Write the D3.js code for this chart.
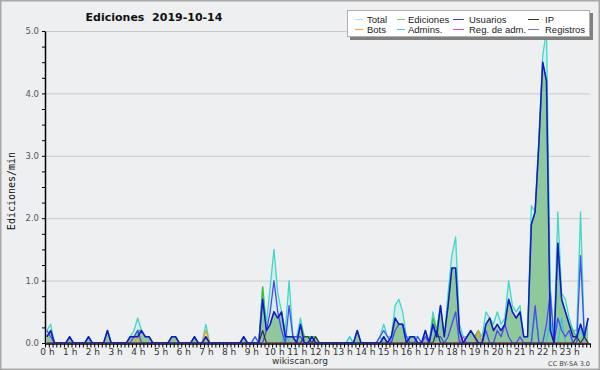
<!DOCTYPE html>
<html>
<head>
<meta charset="utf-8">
<script src="https://cdn.jsdelivr.net/npm/d3@7"></script>
<style>
  body { margin: 0; background: #eeeff0; }
  svg { display: block; font-family: "DejaVu Sans", sans-serif; }
</style>
</head>
<body>
<div id="chart"></div>
<script>
// edits per minute, one value per 10 minute slot (144 slots, 12 per row = 2 hours)
const total = [
  0.2,0.3,0,0,0,0,0.1,0,0,0,0,0.1,
  0,0,0,0,0.2,0,0,0,0,0,0.1,0.2,
  0.4,0.2,0.1,0.1,0,0,0,0,0,0.1,0.1,0,
  0,0,0,0.1,0,0,0.3,0,0,0,0,0,
  0,0,0,0,0.1,0,0,0.1,0,0.9,0.3,0.9,
  1.5,0.8,0.5,0.2,1.0,0.1,0.1,0.4,0.1,0.1,0.1,0.1,
  0,0,0,0,0,0,0,0,0.1,0,0.2,0,
  0,0,0,0,0.1,0.3,0.1,0.1,0.6,0.7,0.5,0.1,
  0.1,0.1,0.1,0,0.2,0,0.5,0.2,0.6,0.1,0.8,1.4,
  1.7,0.3,0.1,0.1,0.2,0.1,0.2,0.1,0.5,0.4,0.3,0.5,
  0.3,0.4,1.0,0.6,0.5,0.6,0.1,0.1,2.2,2.1,3.3,4.6,
  5.0,0.9,0.1,2.1,0.8,0.7,0.4,0.2,0.2,2.1,0.1,0.4
];
const ediciones = [
  0.1,0.2,0,0,0,0,0.1,0,0,0,0,0.1,
  0,0,0,0,0.2,0,0,0,0,0,0.1,0.1,
  0.2,0.2,0.1,0.1,0,0,0,0,0,0.1,0.1,0,
  0,0,0,0.1,0,0,0.1,0,0,0,0,0,
  0,0,0,0,0.1,0,0,0,0,0.9,0.2,0.3,
  0.5,0.4,0.5,0.1,0.1,0.1,0,0.3,0.1,0.1,0.1,0.1,
  0,0,0,0,0,0,0,0,0,0,0.2,0,
  0,0,0,0,0,0.1,0,0,0.4,0.3,0.3,0,
  0.1,0.1,0,0,0.2,0,0.4,0.2,0.6,0.1,0.6,1.2,
  1.2,0.2,0,0.1,0.2,0.1,0.2,0,0.3,0.4,0.2,0.3,
  0.2,0.3,0.7,0.5,0.4,0.5,0.1,0.1,1.9,2.1,3.2,4.5,
  4.2,0.3,0,1.6,0.7,0.5,0.3,0.2,0.1,0.3,0.1,0.4
];
const usuarios = [
  0.1,0.2,0,0,0,0,0.1,0,0,0,0,0.1,
  0,0,0,0,0.2,0,0,0,0,0,0.1,0.1,
  0.1,0.2,0.1,0.1,0,0,0,0,0,0.1,0.1,0,
  0,0,0,0.1,0,0,0.1,0,0,0,0,0,
  0,0,0,0,0.1,0,0,0,0,0.7,0.2,0.3,
  0.5,0.4,0.5,0.1,0.1,0.1,0,0.3,0,0,0.1,0,
  0,0,0,0,0,0,0,0,0,0,0.2,0,
  0,0,0,0,0,0.1,0,0.1,0.4,0.3,0.3,0,
  0.1,0.1,0,0,0.2,0,0.3,0.1,0.6,0.1,0.6,1.2,
  1.2,0.2,0,0.1,0.2,0.1,0,0,0.3,0.4,0.2,0.3,
  0.2,0.3,0.7,0.5,0.4,0.5,0.1,0.1,1.9,2.1,3.2,4.5,
  4.2,0.2,0,1.6,0.7,0.5,0.3,0.1,0.1,0.3,0.1,0.4
];
const ip = [
  0,0,0,0,0,0,0,0,0,0,0,0,
  0,0,0,0,0,0,0,0,0,0,0,0,
  0,0,0,0,0,0,0,0,0,0,0,0,
  0,0,0,0,0,0,0,0,0,0,0,0,
  0,0,0,0,0,0,0,0,0,0.2,0,0,
  0,0,0,0,0,0,0,0,0.1,0.1,0,0.1,
  0,0,0,0,0,0,0,0,0,0,0,0,
  0,0,0,0,0,0,0,0,0,0,0,0,
  0,0,0,0,0,0,0,0.2,0,0,0,0,
  0,0,0,0,0,0,0,0,0,0,0,0,
  0,0,0,0,0,0,0,0,0,0,0,0,
  0,0,0,0,0,0,0,0,0.1,0,0.1,0
];
const bots = [
  0,0,0,0,0,0,0,0,0,0,0,0,
  0,0,0,0,0,0,0,0,0,0,0,0,
  0.1,0,0,0,0,0,0,0,0,0,0,0,
  0,0,0,0,0,0,0.2,0,0,0,0,0,
  0,0,0,0,0,0,0,0,0,0,0,0,
  0,0,0,0,0,0,0,0,0,0,0,0,
  0,0,0,0,0,0,0,0,0,0,0,0,
  0,0,0,0,0,0,0,0,0,0,0,0,
  0,0,0,0,0,0,0,0,0,0,0,0,
  0,0,0,0,0,0,0.2,0,0,0,0,0,
  0,0,0,0,0,0,0,0,0,0,0,0,
  0,0,0,0,0,0,0,0,0,0,0,0
];
const admins = [
  0,0,0,0,0,0,0,0,0,0,0,0,
  0,0,0,0,0,0,0,0,0,0,0,0,
  0,0,0,0,0,0,0,0,0,0,0,0,
  0,0,0,0,0,0,0,0,0,0,0,0,
  0,0,0,0,0,0,0,0,0,0,0,0,
  0,0,0,0.2,0,0,0,0,0,0,0,0,
  0,0,0,0,0,0,0,0,0.1,0,0,0,
  0,0,0,0,0.1,0,0,0,0,0,0,0,
  0,0,0,0,0,0,0.3,0,0,0,0,0,
  0,0,0,0,0,0,0,0,0,0,0,0,
  0,0,0,0,0,0,0,0,0,0.5,0,0,
  0,0.4,0,0,0.4,0,0,0,0,0.3,0,0
];
const regAdm = [
  0,0,0,0,0,0,0,0,0,0,0,0,
  0,0,0,0,0,0,0,0,0,0,0,0,
  0,0,0,0,0,0,0,0,0,0,0,0,
  0,0,0,0,0,0,0,0,0,0,0,0,
  0,0,0,0,0,0,0,0,0,0,0,0,
  0,0,0,0,0,0,0,0,0,0,0,0,
  0,0,0,0,0,0,0,0,0,0,0,0,
  0,0,0,0,0,0,0,0,0,0,0,0,
  0,0,0,0,0,0,0,0,0,0,0,0,
  0,0,0.1,0,0,0,0,0,0,0,0,0,
  0,0,0,0,0,0,0,0,0,0,0,0,
  0,0,0,0,0,0,0,0,0,0,0,0
];
const registros = [
  0.2,0.1,0,0,0,0,0,0,0,0,0,0,
  0,0,0,0,0,0,0,0,0,0,0,0.1,
  0.2,0,0,0,0,0,0,0,0,0,0,0,
  0,0,0,0,0,0,0,0,0,0,0,0,
  0,0,0,0,0,0,0,0.1,0,0,0.2,0.5,
  1.0,0.5,0.2,0,0.6,0.1,0.1,0.1,0,0,0,0,
  0,0,0,0,0,0,0,0,0,0,0,0,
  0,0,0,0,0.1,0.2,0.1,0,0.2,0.3,0.3,0.1,
  0,0,0.1,0,0.1,0,0.3,0.1,0.1,0,0.1,0.3,
  0.5,0,0,0,0,0,0,0,0.2,0,0,0.2,
  0.1,0.3,0.1,0,0,0.1,0,0,0,0.6,0,0,
  0.3,0.8,0,0.4,0.2,0.1,0.2,0,0,1.4,0.1,0
];

const hourLabels = ["0 h","1 h","2 h","3 h","4 h","5 h","6 h","7 h","8 h","9 h","10 h","11 h",
  "12 h","13 h","14 h","15 h","16 h","17 h","18 h","19 h","20 h","21 h","22 h","23 h"];
const legendNames = ["Total","Bots","Ediciones","Admins.","Usuarios","Reg. de adm.","IP","Registros"];
const legendColors = ["#a6e8e6","#f5a623","#7ccf7c","#3fd2e6","#3838ea","#e044e0","#333333","#7474f2"];

var margin = { top: 31, right: 10, bottom: 27, left: 45 },
    width = 600 - margin.left - margin.right,
    height = 370 - margin.top - margin.bottom;

var svg = d3.select("#chart")
    .append("svg")
    .attr("width", 600)
    .attr("height", 370);

svg.append("rect")
    .attr("x", 0.75).attr("y", 0.75)
    .attr("width", 598.5).attr("height", 368.5)
    .attr("fill", "#eeeff0")
    .attr("stroke", "#a8a8a8")
    .attr("stroke-width", 1.5);

var g = svg.append("g")
    .attr("transform", "translate(" + margin.left + "," + margin.top + ")");

var x = d3.scaleLinear().domain([0, 144]).range([0, width]);
var y = d3.scaleLinear().domain([0, 5]).range([height, 0]);

// grid lines
g.append("g")
    .selectAll("line")
    .data([1, 2, 3, 4, 5])
    .enter().append("line")
    .attr("x1", 0).attr("x2", width)
    .attr("y1", function (d) { return y(d) + 0.5; })
    .attr("y2", function (d) { return y(d) + 0.5; })
    .attr("stroke", "#c9c9c9");

g.append("clipPath").attr("id", "clip")
    .append("rect").attr("width", width).attr("height", height);

var plot = g.append("g").attr("clip-path", "url(#clip)");

var area = d3.area()
    .x(function (d, i) { return x(i + 0.5); })
    .y0(height)
    .y1(function (d) { return y(d); });
var line = d3.line()
    .x(function (d, i) { return x(i + 0.5); })
    .y(function (d) { return y(d); });

plot.append("path").datum(total).attr("d", area).attr("fill", "#d5eeec");
plot.append("path").datum(ediciones).attr("d", area).attr("fill", "#8fc89b");

var lines = [
    { data: total, color: "#3fd8ca", w: 1.3 },
    { data: ediciones, color: "#3cbf46", w: 1.3 },
    { data: admins, color: "#2fc6e0", w: 1.2 },
    { data: bots, color: "#f0a020", w: 1.3 },
    { data: regAdm, color: "#e040e0", w: 1.2 },
    { data: registros, color: "#4a4af2", w: 1.3 },
    { data: ip, color: "#333333", w: 1.2 },
    { data: usuarios, color: "#1515d2", w: 1.5 }
];

plot.selectAll(".series")
    .data(lines)
    .enter().append("path")
    .attr("class", "series")
    .attr("d", function (d) { return line(d.data); })
    .attr("fill", "none")
    .attr("stroke", function (d) { return d.color; })
    .attr("stroke-width", function (d) { return d.w; })
    .attr("stroke-linejoin", "round");

// x axis: a tick every 10 minutes, labels on the hour
var xAxis = g.append("g")
    .attr("transform", "translate(0," + (height + 0.5) + ")")
    .call(d3.axisBottom(x)
        .tickValues(d3.range(0, 145))
        .tickSize(4)
        .tickSizeOuter(0)
        .tickFormat(function (d) { return (d % 6 === 0 && d < 144) ? hourLabels[d / 6] : ""; }));
xAxis.select(".domain").attr("stroke", "#000").attr("stroke-width", 1.5);
xAxis.selectAll(".tick line").attr("stroke", "#000");
xAxis.selectAll("text")
    .attr("dx", 2).attr("y", 5)
    .attr("fill", "#333")
    .style("font-size", "9px")
    .style("font-family", "DejaVu Sans");

var yAxis = g.append("g")
    .call(d3.axisLeft(y)
        .tickValues(d3.range(0, 5.01, 0.25))
        .tickSize(3)
        .tickSizeOuter(0)
        .tickFormat(function (d) { return Number.isInteger(d) ? d3.format(".1f")(d) : ""; }));
yAxis.select(".domain").attr("stroke", "#000").attr("stroke-width", 1.5);
yAxis.selectAll(".tick line").attr("stroke", "#000");
yAxis.selectAll("text")
    .attr("fill", "#555")
    .style("font-size", "8.5px")
    .style("font-family", "DejaVu Sans");

// titles
svg.append("text")
    .attr("x", 154).attr("y", 21)
    .attr("text-anchor", "middle")
    .style("font-size", "11px").style("font-weight", "bold")
    .style("white-space", "pre")
    .attr("fill", "#111")
    .text("Ediciones  2019-10-14");

svg.append("text")
    .attr("transform", "translate(15,191) rotate(-90)")
    .attr("text-anchor", "middle")
    .style("font-family", "DejaVu Sans Mono").style("font-size", "10px")
    .attr("fill", "#111")
    .text("Ediciones/min");

svg.append("text")
    .attr("x", 300).attr("y", 364)
    .attr("text-anchor", "middle")
    .style("font-size", "9px")
    .attr("fill", "#333")
    .text("wikiscan.org");

svg.append("text")
    .attr("x", 590).attr("y", 366)
    .attr("text-anchor", "end")
    .style("font-size", "6.5px")
    .attr("fill", "#444")
    .text("CC BY-SA 3.0");

// legend
var leg = svg.append("g");
leg.append("rect")
    .attr("x", 350).attr("y", 13).attr("width", 243).attr("height", 27)
    .attr("fill", "#808080");
leg.append("rect")
    .attr("x", 347.5).attr("y", 10.5).attr("width", 242).attr("height", 26)
    .attr("fill", "#fff").attr("stroke", "#b0b0b0");

var colLine = [355, 397, 453, 528],
    colLen = [8, 8, 11, 11],
    colText = [367, 408, 469, 545],
    rowY = [19, 29];

var items = leg.selectAll(".item")
    .data(legendNames)
    .enter().append("g")
    .attr("class", "item");
items.append("line")
    .attr("x1", function (d, i) { return colLine[Math.floor(i / 2)]; })
    .attr("x2", function (d, i) { return colLine[Math.floor(i / 2)] + colLen[Math.floor(i / 2)]; })
    .attr("y1", function (d, i) { return rowY[i % 2] + 0.5; })
    .attr("y2", function (d, i) { return rowY[i % 2] + 0.5; })
    .attr("stroke", function (d, i) { return legendColors[i]; })
    .attr("stroke-width", 1);
items.append("text")
    .attr("x", function (d, i) { return colText[Math.floor(i / 2)]; })
    .attr("y", function (d, i) { return rowY[i % 2] + 3.5; })
    .style("font-family", "Liberation Sans")
    .style("font-size", "9.5px")
    .attr("fill", "#222")
    .text(function (d) { return d; });
</script>
</body>
</html>
